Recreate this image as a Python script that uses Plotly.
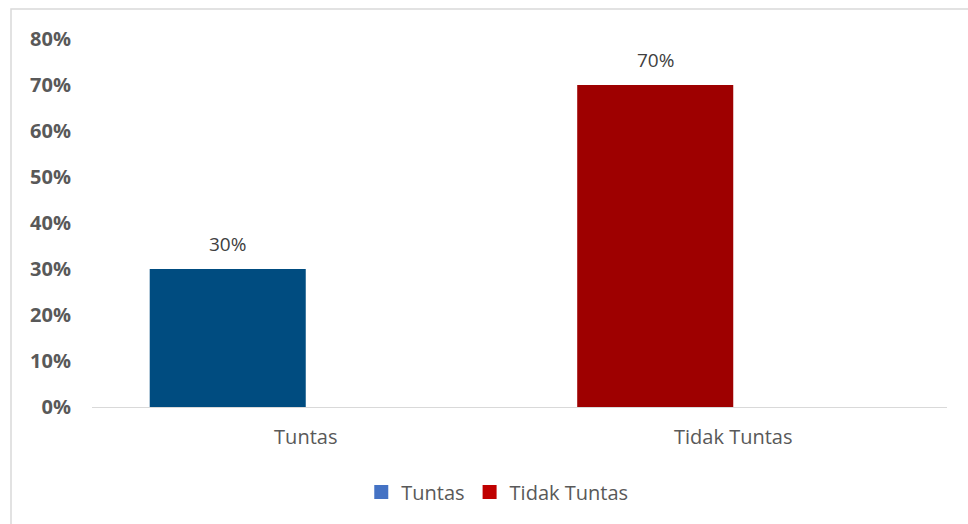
import plotly.graph_objects as go

categories = ["Tuntas", "Tidak Tuntas"]
series_names = ["Tuntas", "Tidak Tuntas"]
values = [0.30, 0.70]
bar_colors = ["#004C80", "#9E0000"]
legend_colors = ["#4472C4", "#C00000"]
y_ticks = [0, 0.1, 0.2, 0.3, 0.4, 0.5, 0.6, 0.7, 0.8]

FONT = "Open Sans"
fig = go.Figure()

for cat, name, v, c in zip(categories, series_names, values, bar_colors):
    fig.add_trace(go.Bar(
        x=[cat], y=[v], name=name, marker=dict(color=c, line=dict(width=0)),
        width=0.365, offset=-0.365, showlegend=False, hoverinfo="skip"))
    fig.add_annotation(x=cat, y=v, text=f"{v:.0%}", showarrow=False,
                       xshift=-78, yshift=10, yanchor="bottom",
                       font=dict(family=FONT, size=19, color="#404040"))

for name, c in zip(series_names, legend_colors):
    fig.add_trace(go.Scatter(x=[None], y=[None], name=name, mode="markers",
                             marker=dict(color=c, symbol="square", size=14)))

fig.update_layout(
    width=968, height=524,
    margin=dict(l=92, r=21, t=39, b=117),
    paper_bgcolor="white", plot_bgcolor="white",
    barmode="overlay",
    showlegend=True,
    legend=dict(orientation="h", x=0.474, xanchor="center", y=-0.231, yanchor="middle",
                font=dict(family=FONT, size=20, color="#595959"),
                itemwidth=30, tracegroupgap=0),
    xaxis=dict(showline=True, linecolor="#D9D9D9", linewidth=1, showgrid=False,
               ticks="", tickfont=dict(family=FONT, size=20, color="#595959"),
               ticklabelstandoff=12),
    yaxis=dict(range=[0, 0.8], tickvals=y_ticks, tickformat=".0%", showgrid=False,
               zeroline=False, showline=False, ticks="",
               tickfont=dict(family=FONT, size=20, color="#595959", weight="bold"),
               ticklabelstandoff=20),
    shapes=[dict(type="rect", xref="paper", yref="paper",
                 x0=(11 - 92) / 855, x1=1.2, y0=-0.5, y1=(407 - 9) / 368,
                 line=dict(color="#D9D9D9", width=1.5), fillcolor="rgba(0,0,0,0)",
                 layer="below")],
)

fig.write_html("out.html")
